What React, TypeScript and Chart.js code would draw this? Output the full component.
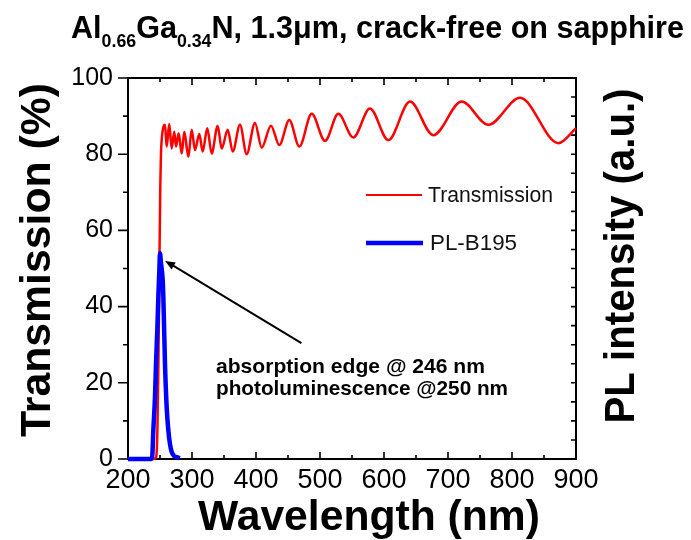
import React, { useEffect, useRef } from 'react';
import { Chart, registerables } from 'chart.js';

Chart.register(...registerables);

// ---- Data ----
const transWavelength = [200, 240, 244, 246, 247.5, 249, 250.5, 251.5, 252.6, 257.8, 260.4, 264.5, 268.2, 272.3, 275, 279.2, 283.9, 288, 294.3, 299.5, 304.7, 311.4, 316.7, 323.9, 330.7, 340.1, 346.4, 355.8, 363.6, 375, 385.4, 398.4, 408.9, 423.4, 436.4, 452, 467.7, 487, 507.8, 528.6, 552, 578, 606.7, 640.6, 677, 721.4, 763, 812.5, 872.4, 900];
const transValue = [0, 0, 0.5, 8, 25, 50, 72, 80, 83.7, 87.7, 82, 87.9, 81.5, 85.9, 82, 85.5, 80.2, 85.9, 79.3, 86.4, 81.1, 85.3, 80.7, 86.8, 80.2, 87.4, 81.5, 86.4, 80.7, 87.7, 80, 88.2, 81.7, 87.5, 82.4, 89, 82, 90.6, 83.5, 90.6, 84.4, 92, 83.7, 93.8, 85, 93.8, 87.7, 94.8, 82.9, 86.8];

const plWavelength = [200, 236, 238, 239.6, 242.2, 243.75, 245.8, 247.4, 249, 250, 251.5, 254.2, 255.2, 257.8, 260.4, 263, 265.5, 268.2, 272, 276, 281];
const plValue = [0, 0, 1, 7.6, 16.4, 25, 33.9, 42.6, 49.6, 54, 51.5, 47, 42.6, 25, 13.7, 7.6, 4, 1.9, 0.8, 0.5, 0.2];

const xTickLabels = [200, 300, 400, 500, 600, 700, 800, 900];
const yTickLabels = [0, 20, 40, 60, 80, 100];

const seriesNames = ['Transmission', 'PL-B195'];
const titleParts = [
  { text: 'Al', sub: false },
  { text: '0.66', sub: true },
  { text: 'Ga', sub: false },
  { text: '0.34', sub: true },
  { text: 'N, 1.3\u03bcm, crack-free on sapphire', sub: false },
];
const xTitle = 'Wavelength (nm)';
const yTitle = 'Transmission (%)';
const y2Title = 'PL intensity (a.u.)';
const noteLines = ['absorption edge @ 246 nm', 'photoluminescence @250 nm'];
const arrowHead = { x: 258, y: 52 };
const arrowTail = { x: 471, y: 30.4 };
const noteAnchor = { x: 337.5, y1: 22.6, y2: 16.8 };

const FONT = '"Liberation Sans", Arial, Helvetica, sans-serif';

function fitText(ctx: CanvasRenderingContext2D, text: string, x: number, y: number, targetW: number, font: string, align: 'left' | 'center', rot = 0) {
  ctx.save();
  ctx.font = font;
  const w = ctx.measureText(text).width;
  const sx = targetW / w;
  ctx.translate(x, y);
  if (rot) ctx.rotate(rot);
  ctx.scale(sx, 1);
  ctx.textAlign = 'left';
  ctx.fillText(text, align === 'center' ? -w / 2 : 0, 0);
  ctx.restore();
}

const framePlugin = {
  id: 'frame',
  beforeDatasetsDraw(chart: any) {
    const ctx: CanvasRenderingContext2D = chart.ctx;
    const a = chart.chartArea;
    const xs = chart.scales.x;
    const ys = chart.scales.y;
    const y2s = chart.scales.y2;
    ctx.save();
    ctx.strokeStyle = '#000';
    ctx.lineWidth = 2;
    ctx.strokeRect(a.left, a.top, a.right - a.left, a.bottom - a.top);
    ctx.lineWidth = 1.6;
    ctx.beginPath();
    for (let v = 200; v <= 900; v += 50) {
      const px = xs.getPixelForValue(v);
      const len = v % 100 === 0 ? 7 : 4;
      ctx.moveTo(px, a.bottom); ctx.lineTo(px, a.bottom - len);
      ctx.moveTo(px, a.top); ctx.lineTo(px, a.top + len);
    }
    for (let v = 0; v <= 100; v += 10) {
      const py = ys.getPixelForValue(v);
      const len = v % 20 === 0 ? 10 : 5;
      ctx.moveTo(a.left, py); ctx.lineTo(a.left - len, py);
    }
    for (let v = 0; v <= 100; v += 5) {
      const py = y2s.getPixelForValue(v);
      ctx.moveTo(a.right, py); ctx.lineTo(a.right - 5, py);
    }
    ctx.stroke();
    ctx.restore();
  },
};

const decorPlugin = {
  id: 'decor',
  afterDraw(chart: any) {
    const ctx: CanvasRenderingContext2D = chart.ctx;
    const xs = chart.scales.x;
    const ys = chart.scales.y;
    ctx.save();
    ctx.fillStyle = '#000';

    // legend
    ctx.lineWidth = 2;
    ctx.strokeStyle = '#ff0000';
    ctx.beginPath(); ctx.moveTo(366, 195); ctx.lineTo(422, 195); ctx.stroke();
    ctx.lineWidth = 4.5;
    ctx.strokeStyle = '#0000ff';
    ctx.beginPath(); ctx.moveTo(366, 243); ctx.lineTo(423, 243); ctx.stroke();
    ctx.fillStyle = '#111';
    ctx.textBaseline = 'middle';
    fitText(ctx, seriesNames[0], 428, 196, 125, `22px ${FONT}`, 'left');
    fitText(ctx, seriesNames[1], 430, 244, 87, `22px ${FONT}`, 'left');

    // title
    ctx.textBaseline = 'alphabetic';
    ctx.fillStyle = '#000';
    const mainFont = `bold 31px ${FONT}`;
    const subFont = `bold 18px ${FONT}`;
    let total = 0;
    const widths: number[] = [];
    for (const p of titleParts) {
      ctx.font = p.sub ? subFont : mainFont;
      const w = ctx.measureText(p.text).width;
      widths.push(w);
      total += w;
    }
    const sx = 613 / total;
    ctx.save();
    ctx.translate(71, 38);
    ctx.scale(sx, 1);
    let cx = 0;
    titleParts.forEach((p, i) => {
      ctx.font = p.sub ? subFont : mainFont;
      ctx.fillText(p.text, cx, p.sub ? 9 : 0);
      cx += widths[i];
    });
    ctx.restore();

    // axis titles
    fitText(ctx, xTitle, 369, 530, 342, `bold 42px ${FONT}`, 'center');
    fitText(ctx, yTitle, 50, 260, 354, `bold 42px ${FONT}`, 'center', -Math.PI / 2);
    fitText(ctx, y2Title, 634, 256, 335, `bold 42px ${FONT}`, 'center', -Math.PI / 2);

    // annotation arrow
    const hx = xs.getPixelForValue(arrowHead.x), hy = ys.getPixelForValue(arrowHead.y);
    const tx = xs.getPixelForValue(arrowTail.x), ty = ys.getPixelForValue(arrowTail.y);
    const ang = Math.atan2(hy - ty, hx - tx);
    ctx.strokeStyle = '#000';
    ctx.lineWidth = 2;
    ctx.beginPath();
    ctx.moveTo(tx, ty);
    ctx.lineTo(hx - 6 * Math.cos(ang), hy - 6 * Math.sin(ang));
    ctx.stroke();
    ctx.beginPath();
    ctx.moveTo(hx, hy);
    ctx.lineTo(hx - 10 * Math.cos(ang) + 4 * Math.sin(ang), hy - 10 * Math.sin(ang) - 4 * Math.cos(ang));
    ctx.lineTo(hx - 10 * Math.cos(ang) - 4 * Math.sin(ang), hy - 10 * Math.sin(ang) + 4 * Math.cos(ang));
    ctx.closePath();
    ctx.fill();

    const nx = xs.getPixelForValue(noteAnchor.x);
    fitText(ctx, noteLines[0], nx, ys.getPixelForValue(noteAnchor.y1), 269, `bold 21px ${FONT}`, 'left');
    fitText(ctx, noteLines[1], nx, ys.getPixelForValue(noteAnchor.y2), 292, `bold 21px ${FONT}`, 'left');
    ctx.restore();
  },
};

export default function App() {
  const ref = useRef<HTMLCanvasElement | null>(null);
  useEffect(() => {
    if (!ref.current) return;
    const chart = new Chart(ref.current, {
      type: 'line',
      data: {
        datasets: [
          {
            label: seriesNames[0],
            data: transWavelength.map((x, i) => ({ x, y: transValue[i] })),
            borderColor: '#ff0000',
            borderWidth: 2.5,
            pointRadius: 0,
            cubicInterpolationMode: 'monotone',
            yAxisID: 'y',
            order: 2,
            clip: 4,
          },
          {
            label: seriesNames[1],
            data: plWavelength.map((x, i) => ({ x, y: plValue[i] })),
            borderColor: '#0000ff',
            borderWidth: 4.5,
            pointRadius: 0,
            cubicInterpolationMode: 'monotone',
            yAxisID: 'y2',
            order: 1,
            clip: 4,
          },
        ],
      },
      options: {
        responsive: false,
        animation: false,
        events: [],
        layout: { padding: { top: 78, left: 0, right: 0, bottom: 0 } },
        plugins: { legend: { display: false }, tooltip: { enabled: false }, title: { display: false } },
        scales: {
          x: {
            type: 'linear',
            position: 'bottom',
            min: 200,
            max: 900,
            afterBuildTicks: (s: any) => { s.ticks = xTickLabels.map((v) => ({ value: v })); },
            ticks: { color: '#000', font: { size: 27, family: FONT }, padding: 5, maxRotation: 0, autoSkip: false },
            grid: { display: false, drawTicks: false },
            border: { display: false },
            afterFit: (s: any) => { s.height = 81; },
          },
          y: {
            type: 'linear',
            position: 'left',
            min: 0,
            max: 100,
            afterBuildTicks: (s: any) => { s.ticks = yTickLabels.map((v) => ({ value: v })); },
            ticks: { color: '#000', font: { size: 25, family: FONT }, padding: 15 },
            grid: { display: false, drawTicks: false },
            border: { display: false },
            afterFit: (s: any) => { s.width = 128; },
          },
          y2: {
            type: 'linear',
            position: 'right',
            min: 0,
            max: 100,
            ticks: { display: false },
            grid: { display: false, drawTicks: false },
            border: { display: false },
            afterFit: (s: any) => { s.width = 115; },
          },
        },
      },
      plugins: [framePlugin, decorPlugin],
    } as any);
    return () => chart.destroy();
  }, []);
  return (
    <div style={{ position: 'fixed', left: 0, top: 0, width: 691, height: 540, background: '#fff' }}>
      <canvas ref={ref} width={691} height={540} style={{ display: 'block' }} />
    </div>
  );
}
